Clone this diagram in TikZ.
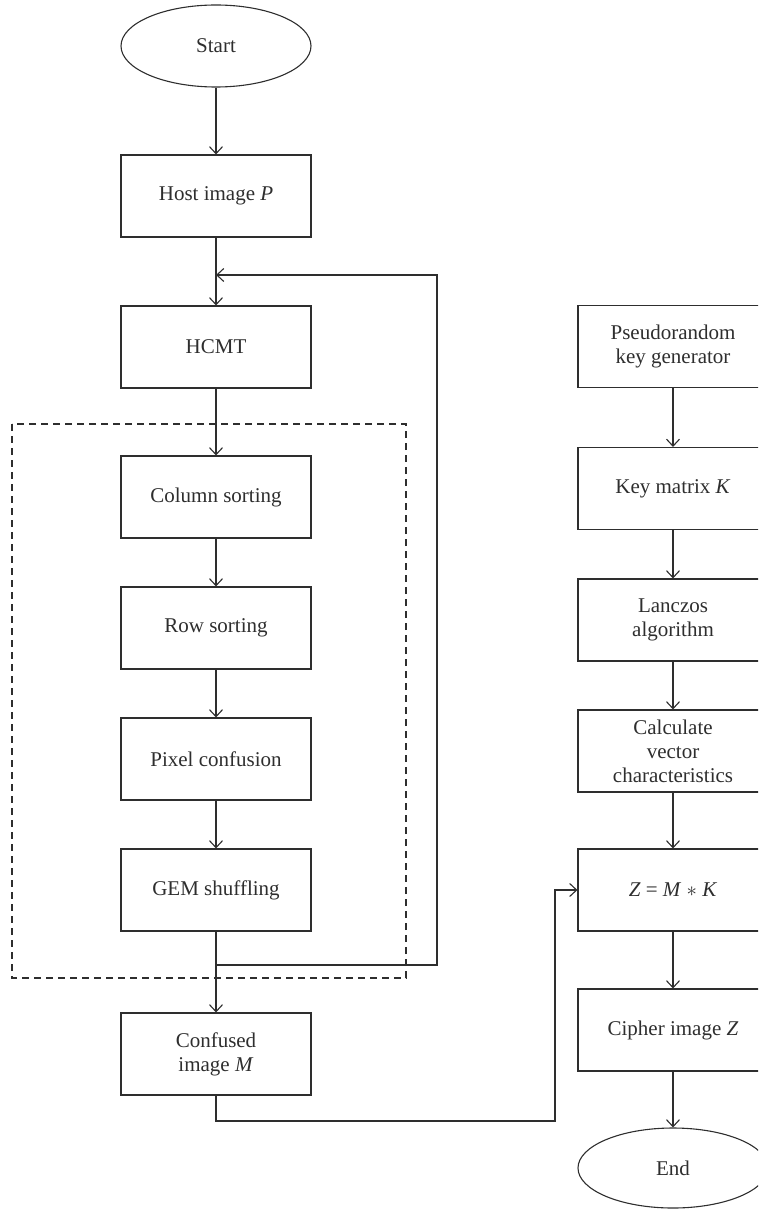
\documentclass[tikz,border=0pt]{standalone}
\usepackage{fontspec}
\setmainfont{Liberation Serif}
\usetikzlibrary{arrows.meta,shapes.geometric}
\definecolor{ink}{HTML}{2E2E2E}
\tikzset{
  stepbox/.style={draw=ink, line width=1.1pt, minimum width=190pt, minimum height=82pt, inner sep=0pt, align=center, font=\fontsize{21}{24}\selectfont, text=ink},
  term/.style={ellipse, draw=ink, line width=1.1pt, minimum width=190pt, minimum height=82pt, inner sep=0pt, font=\fontsize{21}{24}\selectfont, text=ink},
  conn/.style={draw=ink, line width=1.1pt},
  arr/.style={conn, -{Straight Barb[length=7pt,width=13pt,line width=1.1pt]}},
  dashbox/.style={draw=ink, line width=1.1pt, dash pattern=on 7pt off 5pt}
}
\begin{document}
\begin{tikzpicture}[x=1pt,y=-1pt]
\useasboundingbox (0,0) rectangle (758,1209);
\clip (0,0) rectangle (758,1209);
% left column
\node[term] (start) at (216,46) {Start};
\node[stepbox] (host) at (216,196) {Host image \textit{P}};
\node[stepbox] (hcmt) at (216,347) {HCMT};
\node[stepbox] (col) at (216,497) {Column sorting};
\node[stepbox] (row) at (216,628) {Row sorting};
\node[stepbox] (pix) at (216,759) {Pixel confusion};
\node[stepbox] (gem) at (216,890) {GEM shuffling};
\node[stepbox] (conf) at (216,1054) {Confused\\image \textit{M}};
% right column
\node[stepbox] (pseudo) at (673,346.5) {Pseudorandom\\key generator};
\node[stepbox] (key) at (673,488.5) {Key matrix \textit{K}};
\node[stepbox] (lan) at (673,620) {Lanczos\\algorithm};
\node[stepbox] (calc) at (673,751) {Calculate\\vector\\characteristics};
\node[stepbox] (zmk) at (673,890) {\textit{Z} = \textit{M} $\ast$ \textit{K}};
\node[stepbox] (cipher) at (673,1030) {Cipher image \textit{Z}};
\node[term, minimum height=80pt] (end) at (673,1168) {End};
% dashed group
\draw[dashbox] (12,424) rectangle (406,978);
% coordinates
\coordinate (j1) at (216,965);
\coordinate (lr) at (437,965);
\coordinate (ur) at (437,275);
\coordinate (j2) at (216,275);
\coordinate (c1) at (216,1121);
\coordinate (c2) at (555,1121);
\coordinate (c3) at (555,890);
% connectors
\draw[arr] (start) -- (host);
\draw[arr] (host) -- (hcmt);
\draw[arr] (hcmt) -- (col);
\draw[arr] (col) -- (row);
\draw[arr] (row) -- (pix);
\draw[arr] (pix) -- (gem);
\draw[arr] (gem) -- (conf);
\draw[arr] (j1) -- (lr) -- (ur) -- (j2);
\draw[arr] (conf.south) -- (c1) -- (c2) -- (c3) -- (zmk.west);
\draw[arr] (pseudo) -- (key);
\draw[arr] (key) -- (lan);
\draw[arr] (lan) -- (calc);
\draw[arr] (calc) -- (zmk);
\draw[arr] (zmk) -- (cipher);
\draw[arr] (cipher) -- (end);
\end{tikzpicture}
\end{document}
